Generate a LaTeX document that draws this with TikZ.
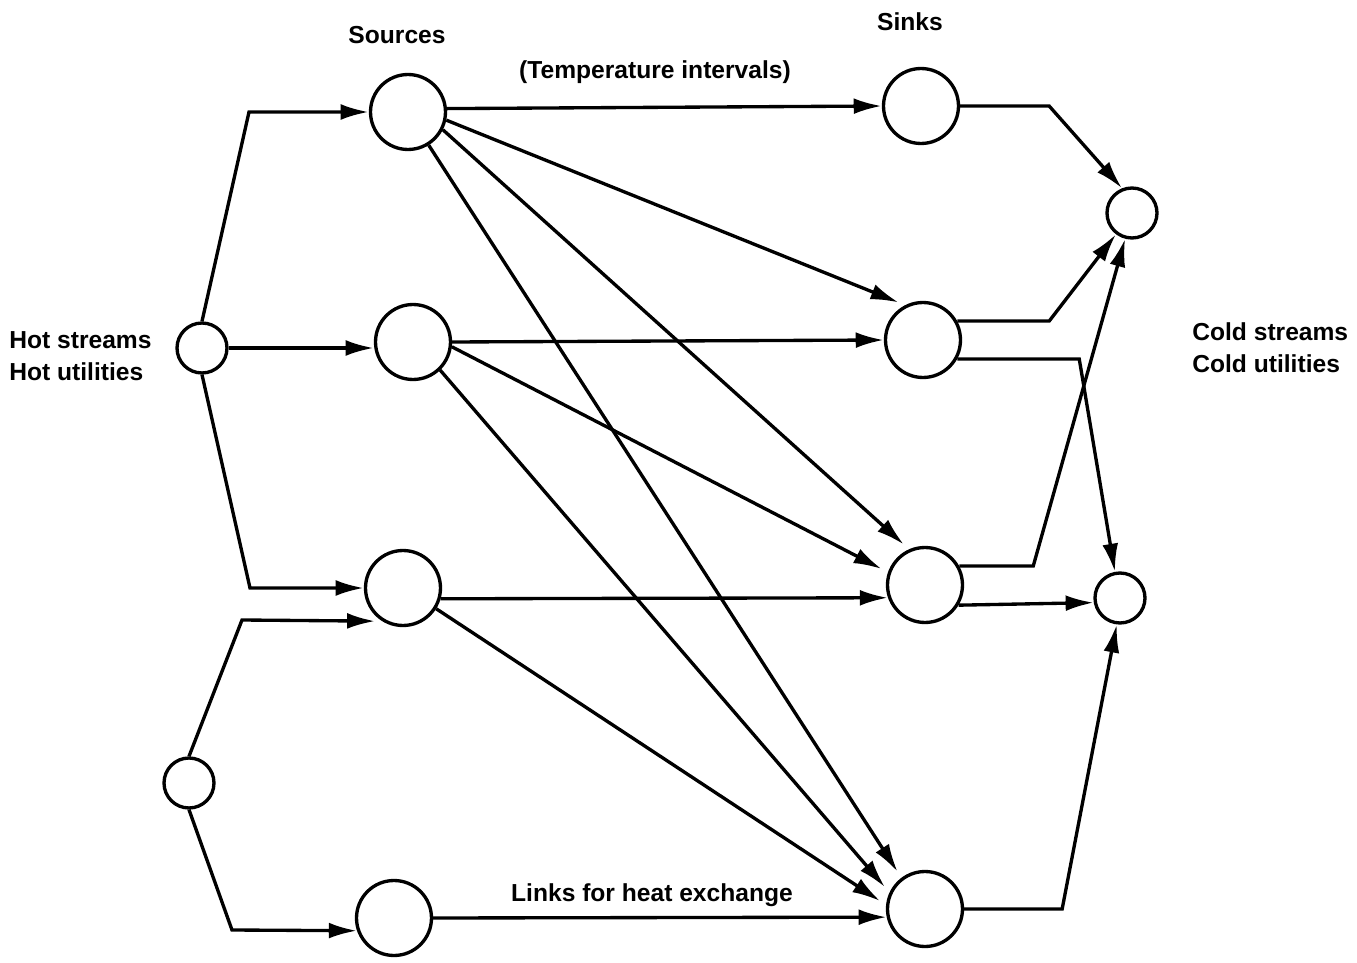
\documentclass[tikz,border=0pt]{standalone}
\usepackage{fontspec}
\setmainfont{Liberation Sans}
\usepackage{tikz}
\usetikzlibrary{arrows.meta}

\begin{document}
\begin{tikzpicture}[x=0.02cm, y=-0.02cm]

	% Define styles
	\tikzset{
		hub/.style={circle, draw, line width=1.9pt, minimum size=1cm, inner sep=0pt},
		interval/.style={circle, draw, line width=1.9pt, minimum size=1.5cm, inner sep=0pt},
		txt/.style={inner sep=0pt, font=\bfseries\fontsize{14}{18}\selectfont},
		arrow/.style={line width=1.9pt, -{Latex[length=16pt, width=9pt]}},
		link/.style={arrow, shorten >=4pt}
	}

	\useasboundingbox (0,0) rectangle (1357,963);

	% Hot side
	\node[hub] (hot1) at (202,348) {};
	\node[hub] (hot2) at (189,783) {};

	% Sources and sinks (temperature intervals)
	\node[interval] (src1) at (408,112) {};
	\node[interval] (src2) at (413,342) {};
	\node[interval] (src3) at (403,588) {};
	\node[interval] (src4) at (394,918) {};
	\node[interval] (snk1) at (921,106) {};
	\node[interval] (snk2) at (923,340) {};
	\node[interval] (snk3) at (925,585) {};
	\node[interval] (snk4) at (925,909) {};

	% Cold side
	\node[hub] (cold1) at (1132,213) {};
	\node[hub] (cold2) at (1120,598) {};

	% Labels
	\node[txt] (srclbl) at (397,35) {Sources};
	\node[txt] (snklbl) at (910,22) {Sinks};
	\node[txt] (tint) at (655,72) {(Temperature intervals)};
	\node[txt, align=left, anchor=west] (hotlbl) at (9,356) {Hot streams\\Hot utilities};
	\node[txt, align=left, anchor=west] (coldlbl) at (1192,348) {Cold streams\\Cold utilities};
	\node[txt] (links) at (652,895) {Links for heat exchange};

	% Hot streams into sources
	\draw[arrow] (hot1.north) -- (249,112) -- (src1.west);
	\draw[arrow] (hot1.east) -- (src2.west |- hot1.east);
	\draw[arrow] (hot1.south) -- (250,588) -- (src3.west);
	\draw[link] (hot2.north) -- (242,620) -- (src3.238);
	\draw[arrow] (hot2.south) -- (232,930) -- (src4.199);

	% Links for heat exchange
	\draw[arrow] (src1.5) -- (snk1.180);
	\draw[link] (src1.-12) -- (snk2.117);
	\draw[link] (src1.-27) -- (snk3.114);
	\draw[link] (src1.-58) -- (snk4.127);
	\draw[arrow] (src2.0) -- (snk2.180);
	\draw[link] (src2.-7) -- (snk3.161);
	\draw[link] (src2.-46) -- (snk4.155);
	\draw[arrow] (src3.-16) -- (snk3.199);
	\draw[link] (src3.-32) -- (snk4.174);
	\draw[arrow] (src4.0) -- (snk4.192);

	% Sinks into cold streams
	\draw[arrow] (snk1.0) -- ++(89,0) -- (cold1.112);
	\draw[arrow] (snk2.29) -- ++(92,0) -- (cold1.233);
	\draw[arrow] (snk2.-29) -- ++(122,0) -- (cold2.101);
	\draw[arrow] (snk3.29) -- ++(74,0) -- (cold1.255);
	\draw[arrow] (snk3.-31) -- (cold2.190);
	\draw[arrow] (snk4.0) -- ++(98,0) -- (cold2.263);

\end{tikzpicture}
\end{document}
